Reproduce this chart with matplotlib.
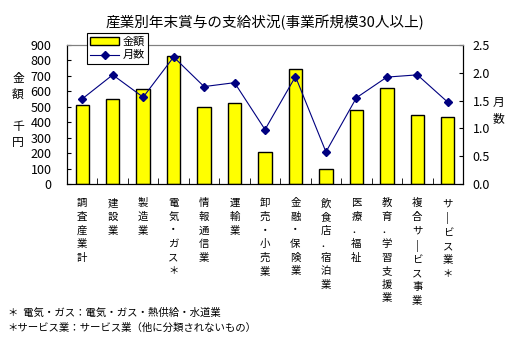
import matplotlib
matplotlib.use("Agg")
from matplotlib import pyplot as plt
from matplotlib.patches import Patch
from matplotlib.lines import Line2D
import numpy as np

plt.rcParams['font.family'] = ['Noto Sans CJK JP', 'DejaVu Sans']

categories = ["調査産業計", "建設業", "製造業", "電気・ガス＊", "情報通信業", "運輸業",
              "卸売・小売業", "金融・保険業", "飲食店．宿泊業", "医療．福祉",
              "教育．学習支援業", "複合サービス事業", "サービス業＊"]
amount = [514, 553, 617, 825, 501, 521, 206, 746, 96, 476, 624, 444, 431]
months = [1.53, 1.96, 1.56, 2.28, 1.75, 1.82, 0.98, 1.93, 0.58, 1.55, 1.92, 1.96, 1.47]


def vertical(s):
    return "\n".join("|" if c == "ー" else c for c in s)


fig = plt.figure(figsize=(5.17, 3.45), dpi=100)
ax = fig.add_axes([0.1296, 0.4658, 0.766, 0.4046])
x = np.arange(len(categories))

ax.bar(x, amount, width=0.44, color="yellow", edgecolor="black", linewidth=1, zorder=2)
ax.set_ylim(0, 900)
ax.set_xlim(-0.5, len(categories) - 0.5)
ax.set_yticks(np.arange(0, 901, 100))
ax.tick_params(axis="y", direction="in", length=3, labelsize=9, pad=11)
ax.set_xticks(x)
ax.set_xticklabels([vertical(c) for c in categories], fontsize=7.5, linespacing=1.45, va="top")
ax.tick_params(axis="x", length=0, pad=10)
ax.set_xticks(np.arange(-0.5, len(categories), 1), minor=True)
ax.tick_params(axis="x", which="minor", direction="in", length=4)
ax.spines["top"].set_color("gray")

ax2 = ax.twinx()
ax2.plot(x, months, color="#000080", marker="D", markersize=4, linewidth=0.8, zorder=3)
ax2.set_ylim(0, 2.5)
ax2.set_yticks(np.arange(0, 2.51, 0.5))
ax2.set_yticklabels([f"{v:.1f}" for v in np.arange(0, 2.51, 0.5)])
ax2.tick_params(axis="y", direction="in", length=3, labelsize=9, pad=7)
ax2.spines["top"].set_color("gray")

fig.text(0.512, 0.935, "産業別年末賞与の支給状況(事業所規模30人以上)", ha="center", va="center", fontsize=10.5)
fig.text(0.035, 0.68, "金\n額\n\n千\n円", ha="center", va="center", fontsize=8.5, linespacing=1.3)
fig.text(0.965, 0.68, "月\n数", ha="center", va="center", fontsize=8.5, linespacing=1.3)

handles = [Patch(facecolor="yellow", edgecolor="black"),
           Line2D([], [], color="#000080", marker="D", markersize=4, linewidth=0.8)]
leg = fig.legend(handles, ["金額", "月数"], loc="upper left", bbox_to_anchor=(0.168, 0.903),
                 fontsize=8, frameon=True, fancybox=False, edgecolor="black", framealpha=1,
                 borderpad=0.3, labelspacing=0.3, handlelength=2.6, handletextpad=0.3,
                 borderaxespad=0)
leg.get_frame().set_linewidth(0.8)

fig.text(0.015, 0.093, "＊  電気・ガス：電気・ガス・熱供給・水道業", fontsize=7.5, va="center")
fig.text(0.015, 0.05, "＊サービス業：サービス業（他に分類されないもの）", fontsize=7.5, va="center")

fig.savefig("out.png", dpi=100)
